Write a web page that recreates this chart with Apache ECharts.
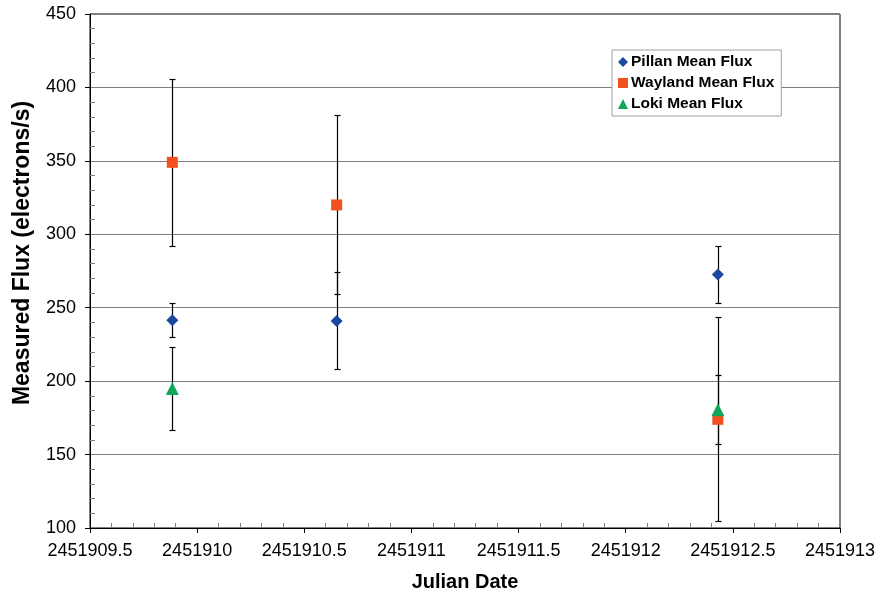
<!DOCTYPE html>
<html>
<head>
<meta charset="utf-8">
<script src="https://cdn.jsdelivr.net/npm/echarts@6/dist/echarts.min.js"></script>
<style>
  html, body { margin: 0; padding: 0; background: #fff; }
  #chart { width: 877px; height: 594px; }
</style>
</head>
<body>
<div id="chart"></div>
<script>
// Observation dates (Julian Date)
const pillanDates = [2451909.884, 2451910.651, 2451912.430];
const waylandDates = [2451909.884, 2451910.651, 2451912.430];
const lokiDates = [2451909.884, 2451912.430];

// Mean flux (electrons/s) and ± uncertainty
const pillanMean = [241.4, 241, 272.7];
const pillanErr = [11.5, 33, 19.3];
const waylandMean = [349, 320, 174];
const waylandErr = [57, 61, 69.5];
const lokiMean = [195, 180.5];
const lokiErr = [28, 23.5];

const seriesNames = ['Pillan Mean Flux', 'Wayland Mean Flux', 'Loki Mean Flux'];
const seriesColors = ['#1A479F', '#F3501F', '#12A659'];

// Axis ranges
const xMin = 2451909.5, xMax = 2451913, xStep = 0.5;
const yMin = 100, yMax = 450, yStep = 50;

function rows(dates, means, errs) {
  return dates.map((d, i) => [d, means[i], errs[i]]);
}

// Vertical error bar with end caps, positioned through the axis scales
function errorBar(params, api) {
  const x = api.value(0), m = api.value(1), e = api.value(2);
  const top = api.coord([x, m + e]);
  const bot = api.coord([x, m - e]);
  const cx = Math.round(top[0]) + 0.5;
  const ty = Math.round(top[1]) + 0.5;
  const by = Math.round(bot[1]) + 0.5;
  const st = { stroke: '#000', lineWidth: 1.2 };
  return {
    type: 'group',
    children: [
      { type: 'line', shape: { x1: cx, y1: ty, x2: cx, y2: by }, style: st },
      { type: 'line', shape: { x1: cx - 3, y1: ty, x2: cx + 3, y2: ty }, style: st },
      { type: 'line', shape: { x1: cx - 3, y1: by, x2: cx + 3, y2: by }, style: st }
    ]
  };
}

const pillanRows = rows(pillanDates, pillanMean, pillanErr);
const waylandRows = rows(waylandDates, waylandMean, waylandErr);
const lokiRows = rows(lokiDates, lokiMean, lokiErr);

const chart = echarts.init(document.getElementById('chart'), null, { renderer: 'canvas' });

const font = '"Liberation Sans", Arial, sans-serif';

chart.setOption({
  animation: false,
  backgroundColor: '#fff',
  textStyle: { fontFamily: font },
  grid: {
    left: 90, right: 37, top: 14, bottom: 66,
    outerBoundsMode: 'none',
    containLabel: false,
    show: true, borderColor: '#000', borderWidth: 1, backgroundColor: 'transparent'
  },
  legend: {
    orient: 'vertical',
    left: 612, top: 50,
    padding: [4, 7, 4, 6],
    itemGap: 5,
    itemWidth: 10, itemHeight: 10,
    backgroundColor: '#fff',
    borderColor: '#A0A0A0', borderWidth: 1, borderRadius: 0,
    textStyle: { fontFamily: font, fontSize: 15.5, fontWeight: 'bold', color: '#000', lineHeight: 15, padding: [0, 0, 0, -2] },
    data: [
      { name: seriesNames[0], icon: 'diamond' },
      { name: seriesNames[1], icon: 'rect' },
      { name: seriesNames[2], icon: 'triangle' }
    ]
  },
  xAxis: {
    type: 'value',
    min: xMin, max: xMax, interval: xStep,
    name: 'Julian Date',
    nameLocation: 'middle',
    nameGap: 44,
    nameTextStyle: { fontFamily: font, fontSize: 20, fontWeight: 'bold', color: '#000' },
    axisLine: { show: true, lineStyle: { color: '#000', width: 1 } },
    axisTick: { show: true, length: 5, lineStyle: { color: '#000' } },
    minorTick: { show: true, splitNumber: 5, length: -5, lineStyle: { color: '#808080' } },
    splitLine: { show: false },
    axisLabel: {
      margin: 14, fontFamily: font, fontSize: 18, color: '#000',
      formatter: v => String(v)
    }
  },
  yAxis: {
    type: 'value',
    min: yMin, max: yMax, interval: yStep,
    name: 'Measured Flux (electrons/s)',
    nameLocation: 'middle',
    nameRotate: 90,
    nameGap: 56,
    nameTextStyle: { fontFamily: font, fontSize: 23, fontWeight: 'bold', color: '#000', padding: [0, 0, 0, 36] },
    axisLine: { show: true, lineStyle: { color: '#000', width: 1 } },
    axisTick: { show: true, length: 5, lineStyle: { color: '#000' } },
    minorTick: { show: true, splitNumber: 5, length: -5, lineStyle: { color: '#808080' } },
    splitLine: { show: true, lineStyle: { color: '#808080', width: 1 } },
    axisLabel: { margin: 14, fontFamily: font, fontSize: 18, color: '#000' }
  },
  series: [
    { type: 'custom', renderItem: errorBar, data: pillanRows, encode: { x: 0, y: 1 }, z: 1, silent: true },
    { type: 'custom', renderItem: errorBar, data: waylandRows, encode: { x: 0, y: 1 }, z: 1, silent: true },
    { type: 'custom', renderItem: errorBar, data: lokiRows, encode: { x: 0, y: 1 }, z: 1, silent: true },
    {
      name: seriesNames[0], type: 'scatter', symbol: 'diamond', symbolSize: 12,
      itemStyle: { color: seriesColors[0], opacity: 1 }, z: 3,
      data: pillanRows.map(r => [r[0], r[1]])
    },
    {
      name: seriesNames[1], type: 'scatter', symbol: 'rect', symbolSize: 11,
      itemStyle: { color: seriesColors[1], opacity: 1 }, z: 4,
      data: waylandRows.map(r => [r[0], r[1]])
    },
    {
      name: seriesNames[2], type: 'scatter', symbol: 'triangle', symbolSize: 13,
      itemStyle: { color: seriesColors[2], opacity: 1 }, z: 5,
      data: lokiRows.map(r => [r[0], r[1]])
    }
  ]
});
</script>
</body>
</html>
